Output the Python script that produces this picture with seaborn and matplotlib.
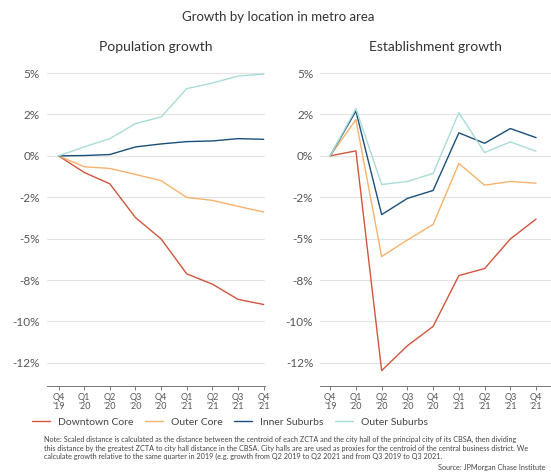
import numpy as np
import pandas as pd
import seaborn as sns
import matplotlib.pyplot as plt
from matplotlib.lines import Line2D
from matplotlib.ticker import MultipleLocator, FuncFormatter

quarters = ["Q4\n'19", "Q1\n'20", "Q2\n'20", "Q3\n'20", "Q4\n'20",
            "Q1\n'21", "Q2\n'21", "Q3\n'21", "Q4\n'21"]
locations = ["Downtown Core", "Outer Core", "Inner Suburbs", "Outer Suburbs"]
colors = ["#d2553d", "#f7b26c", "#1b4f79", "#a9dcd8"]

# population growth (%)
pop_downtown = [0, -1.0, -1.69, -3.73, -5.02, -7.13, -7.75, -8.67, -8.98]
pop_outer_core = [0, -0.66, -0.76, -1.12, -1.5, -2.51, -2.69, -3.05, -3.39]
pop_inner_sub = [0, 0.02, 0.08, 0.54, 0.72, 0.86, 0.9, 1.04, 1.0]
pop_outer_sub = [0, 0.54, 1.04, 1.95, 2.35, 4.06, 4.4, 4.82, 4.94]

# establishment growth (%)
est_downtown = [0, 0.3, -12.97, -11.47, -10.3, -7.23, -6.81, -5.02, -3.82]
est_outer_core = [0, 2.19, -6.08, -5.08, -4.14, -0.46, -1.77, -1.55, -1.65]
est_inner_sub = [0, 2.71, -3.55, -2.57, -2.09, 1.39, 0.76, 1.65, 1.1]
est_outer_sub = [0, 2.85, -1.73, -1.55, -1.06, 2.61, 0.2, 0.84, 0.28]

def long_df(series):
    rows = []
    for loc, vals in zip(locations, series):
        for i, v in enumerate(vals):
            rows.append({"q": i, "growth": v, "loc": loc})
    return pd.DataFrame(rows)

pop = long_df([pop_downtown, pop_outer_core, pop_inner_sub, pop_outer_sub])
est = long_df([est_downtown, est_outer_core, est_inner_sub, est_outer_sub])

sns.set_theme(style="white")
plt.rcParams["font.family"] = ["Lato", "DejaVu Sans"]

fig = plt.figure(figsize=(5.51, 4.73), dpi=100)
ax1 = fig.add_axes([0.0853, 0.184, 0.3956, 0.672])
ax2 = fig.add_axes([0.581, 0.184, 0.419, 0.672])

pal = dict(zip(locations, colors))
for ax, df, title, xl in [(ax1, pop, "Population growth", (-0.45, 8.05)),
                          (ax2, est, "Establishment growth", (-0.39, 8.58))]:
    sns.lineplot(data=df, x="q", y="growth", hue="loc", palette=pal,
                 linewidth=1.0, legend=False, ax=ax)
    ax.set_xlim(*xl)
    ax.set_ylim(-13.9, 5.3)
    ax.yaxis.set_major_locator(MultipleLocator(2.5))
    ax.yaxis.set_major_formatter(FuncFormatter(lambda v, p: "%.0f%%" % v))
    ax.set_xticks(range(len(quarters)))
    ax.set_xticklabels(quarters, fontsize=6.5, color="#555555", linespacing=0.95)
    ax.tick_params(axis="y", labelsize=8.5, colors="#555555", length=0, pad=5)
    ax.tick_params(axis="x", length=3, width=0.7, color="#777777", pad=2,
                   bottom=True)
    ax.grid(axis="y", color="#e3e3e3", linewidth=0.8)
    ax.set_axisbelow(True)
    for s in ["top", "right", "left"]:
        ax.spines[s].set_visible(False)
    ax.spines["bottom"].set_color("#777777")
    ax.spines["bottom"].set_linewidth(0.7)
    ax.set_xlabel("")
    ax.set_ylabel("")
    ax.set_title(title, fontsize=10, color="#333333", pad=12)

fig.text(0.505, 0.965, "Growth by location in metro area", ha="center",
         va="center", fontsize=9.5, color="#333333")

handles = [Line2D([0], [0], color=c, lw=1.0) for c in colors]
fig.legend(handles, locations, loc="center", bbox_to_anchor=(0.418, 0.108),
           ncol=4, frameon=False, fontsize=7.5, handlelength=1.7,
           handletextpad=0.8, columnspacing=1.1, labelcolor="#444444")

note = ("Note: Scaled distance is calculated as the distance between the centroid of each ZCTA and the city hall of the principal city of its CBSA, then dividing\n"
        "this distance by the greatest ZCTA to city hall distance in the CBSA. City halls are are used as proxies for the centroid of the central business district. We\n"
        "calculate growth relative to the same quarter in 2019 (e.g. growth from Q2 2019 to Q2 2021 and from Q3 2019 to Q3 2021.")
fig.text(0.08, 0.078, note, ha="left", va="top", fontsize=5.2, color="#444444",
         linespacing=1.25)
fig.text(0.99, 0.004, "Source: JPMorgan Chase Institute", ha="right", va="bottom",
         fontsize=5.2, color="#444444")

fig.savefig("out.png", dpi=100)
